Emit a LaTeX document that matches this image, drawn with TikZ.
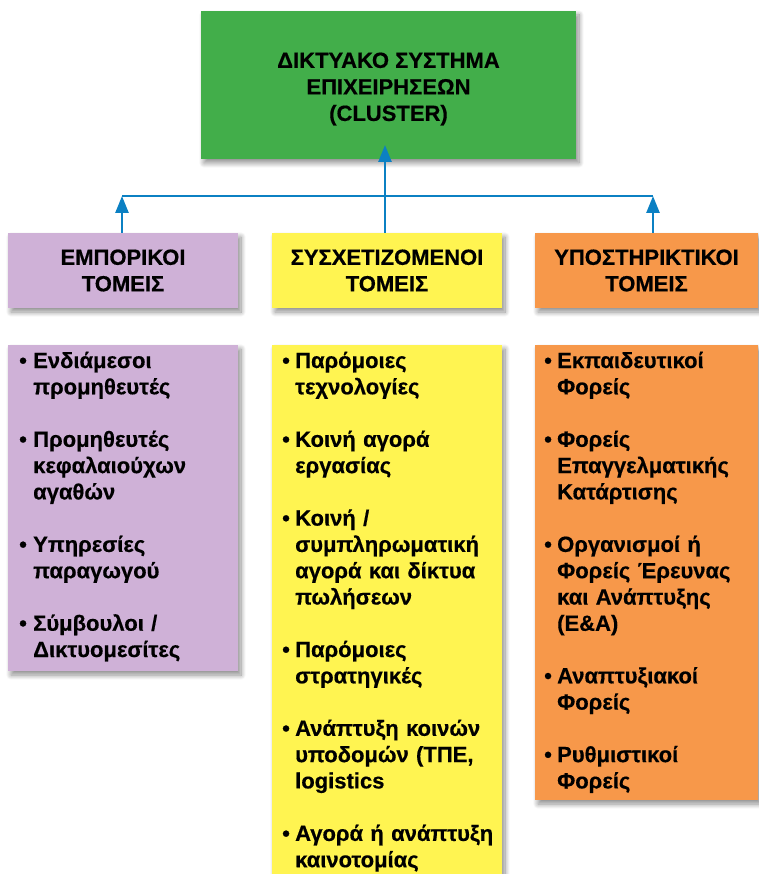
\documentclass[tikz,border=0pt]{standalone}
\usepackage{fontspec}
\setmainfont{Liberation Sans}[BoldFeatures={FakeBold=0.5}]
\usetikzlibrary{shadows.blur,arrows.meta}

\definecolor{clgreen}{HTML}{42AE4A}
\definecolor{clpurple}{HTML}{CFB1D7}
\definecolor{clyellow}{HTML}{FFF451}
\definecolor{clorange}{HTML}{F7984A}
\definecolor{clblue}{HTML}{0B80C3}

% one bulleted entry with a hanging indent; \brk breaks a line inside it
\newcommand\brk{\hfil\break}
\newcommand\bentry[2][13pt]{\hangindent=#1\hangafter=1\noindent\makebox[#1][l]{•}#2\par}
\newcommand\entrygap{\vskip 26.2pt}

\tikzset{
  x=1pt, y=-1pt,
  panel/.style={rectangle, inner sep=0pt, outer sep=0pt, fill=#1,
    blur shadow={shadow xshift=3pt, shadow yshift=-4pt, shadow blur radius=5pt,
      shadow blur steps=10, shadow opacity=45}},
  heading/.style={align=center, font=\fontsize{22}{26.5}\selectfont\bfseries, text=black},
  listtext/.style={anchor=base west, inner sep=0pt, text width=#1, align=left,
    font=\fontsize{22}{26.3}\selectfont\bfseries, text=black},
  link/.style={draw=clblue, line width=2.6pt},
  uparrow/.style={link, -{Triangle[width=13pt,length=17pt]}},
}

\begin{document}
\begin{tikzpicture}
\useasboundingbox (0,0) rectangle (758,874);

% top box and its caption
\node[panel=clgreen, minimum width=375pt, minimum height=148pt, anchor=north west]
  (top) at (201,11) {};
\node[heading] (toptext) at ([yshift=-4pt]top.center) {ΔΙΚΤΥΑΚΟ ΣΥΣΤΗΜΑ\\ΕΠΙΧΕΙΡΗΣΕΩΝ\\(CLUSTER)};

% sector headings
\node[panel=clpurple, heading, minimum width=230pt, minimum height=75pt, anchor=north west]
  (ph) at (8,233) {ΕΜΠΟΡΙΚΟΙ\\ΤΟΜΕΙΣ};
\node[panel=clyellow, heading, minimum width=230pt, minimum height=75pt, anchor=north west]
  (yh) at (272,233) {ΣΥΣΧΕΤΙΖΟΜΕΝΟΙ\\ΤΟΜΕΙΣ};
\node[panel=clorange, heading, minimum width=223pt, minimum height=75pt, anchor=north west]
  (oh) at (535,233) {ΥΠΟΣΤΗΡΙΚΤΙΚΟΙ\\ΤΟΜΕΙΣ};

% list panels
\node[panel=clpurple, minimum width=230pt, minimum height=326pt, anchor=north west] (pl) at (8,345) {};
\node[panel=clyellow, minimum width=230pt, minimum height=540pt, anchor=north west] (yl) at (272,345) {};
\node[panel=clorange, minimum width=223pt, minimum height=455pt, anchor=north west] (ol) at (535,345) {};

\node[listtext=218pt] (ptext) at (19,368) {%
  \bentry[14pt]{Ενδιάμεσοι\brk προμηθευτές}\entrygap
  \bentry[14pt]{Προμηθευτές\brk κεφαλαιούχων\brk αγαθών}\entrygap
  \bentry[14pt]{Υπηρεσίες\brk παραγωγού}\entrygap
  \bentry[14pt]{Σύμβουλοι /\brk Δικτυομεσίτες}};

\node[listtext=226pt] (ytext) at (282,368) {%
  \bentry{Παρόμοιες\brk τεχνολογίες}\entrygap
  \bentry{Κοινή αγορά\brk εργασίας}\entrygap
  \bentry{Κοινή /\brk συμπληρωματική\brk αγορά και δίκτυα\brk πωλήσεων}\entrygap
  \bentry{Παρόμοιες\brk στρατηγικές}\entrygap
  \bentry{Ανάπτυξη κοινών\brk υποδομών (ΤΠΕ,\brk logistics}\entrygap
  \bentry{Αγορά ή ανάπτυξη\brk καινοτομίας}};

\node[listtext=214pt] (otext) at (544,368) {%
  \bentry{Εκπαιδευτικοί\brk Φορείς}\entrygap
  \bentry{Φορείς\brk Επαγγελματικής\brk Κατάρτισης}\entrygap
  \bentry{Οργανισμοί ή\brk Φορείς Έρευνας\brk και Ανάπτυξης\brk (Ε\&Α)}\entrygap
  \bentry{Αναπτυξιακοί\brk Φορείς}\entrygap
  \bentry{Ρυθμιστικοί\brk Φορείς}};

% connectors
\coordinate (jl) at (122,196);
\coordinate (jr) at (653,196);
\coordinate (tin) at (385,145);
\draw[link] (jl) -- (jr);
\draw[uparrow] (ph.north -| jl) -- (jl);
\draw[uparrow] (oh.north -| jr) -- (jr);
\draw[uparrow] (yh.north -| tin) -- (tin);
\end{tikzpicture}
\end{document}
